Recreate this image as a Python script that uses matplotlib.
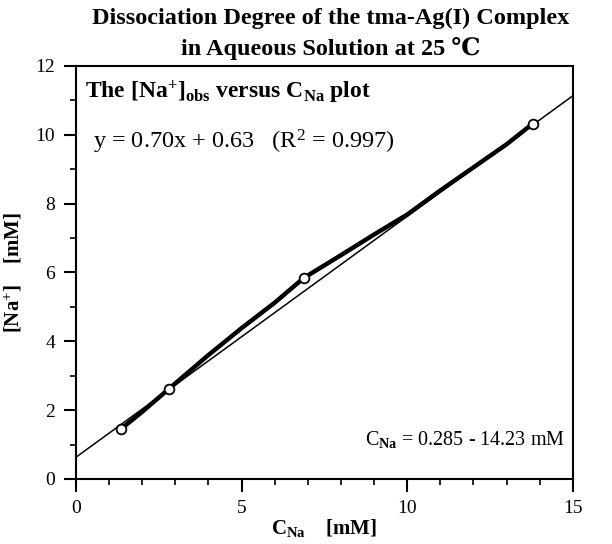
import matplotlib

matplotlib.use("Agg")
import matplotlib.pyplot as plt
import numpy as np
from matplotlib.ticker import MultipleLocator

plt.rcParams["font.family"] = ["Liberation Serif", "DejaVu Serif"]
plt.rcParams["mathtext.fontset"] = "custom"
plt.rcParams["mathtext.rm"] = "Liberation Serif"
plt.rcParams["mathtext.bf"] = "Liberation Serif:bold"
plt.rcParams["mathtext.it"] = "Liberation Serif:italic"

# observed points (open circles)
c_na_points = [1.36, 2.81, 6.88, 13.79]
na_obs_points = [1.45, 2.62, 5.84, 10.32]

# measured curve (thick line)
c_na_curve = [1.36, 2.0, 2.81, 4.0, 5.0, 6.0, 6.88, 8.0, 9.0, 10.0, 11.0, 12.0, 13.0, 13.79]
na_obs_curve = [1.45, 1.95, 2.62, 3.6, 4.38, 5.12, 5.84, 6.5, 7.1, 7.68, 8.38, 9.05, 9.72, 10.32]

# linear fit y = 0.70x + 0.63
slope = 0.70
intercept = 0.63
fit_x = np.array([0.0, 15.0])

fig = plt.figure(figsize=(6.12, 5.44), dpi=100)
ax = fig.add_axes([0.124, 0.1195, 0.812, 0.7595])

ax.plot(fit_x, slope * fit_x + intercept, color="black", lw=1.1, zorder=2)
ax.plot(c_na_curve, na_obs_curve, color="black", lw=3.2, solid_capstyle="round", zorder=3)
ax.plot(c_na_points, na_obs_points, "o", ms=7, mfc="white", mec="black", mew=1.3, zorder=4)

ax.set_xlim(0, 15)
ax.set_ylim(0, 12)
ax.xaxis.set_major_locator(MultipleLocator(5))
ax.xaxis.set_minor_locator(MultipleLocator(1))
ax.yaxis.set_major_locator(MultipleLocator(2))
ax.yaxis.set_minor_locator(MultipleLocator(1))
ax.tick_params(which="major", direction="out", length=9, width=1.5, labelsize=14, pad=6)
ax.tick_params(which="minor", direction="out", length=4, width=1.2)
for spine in ax.spines.values():
    spine.set_linewidth(1.5)

ax.set_xlabel(r"C$_{\mathbf{Na}}$    [mM]", fontsize=15, fontweight="bold", labelpad=0)
ax.set_ylabel(r"[Na$^{\mathbf{+}}$]    [mM]", fontsize=15, fontweight="bold", labelpad=8)

fig.suptitle("Dissociation Degree of the tma-Ag(I) Complex\nin Aqueous Solution at 25 \u2103",
             x=0.54, y=0.985, fontsize=17.5, fontweight="bold", linespacing=1.45)

ax.text(0.018, 0.97, r"The [Na$^{\mathbf{+}}$]$_{\mathbf{obs}}$ versus C$_{\mathbf{Na}}$ plot",
        transform=ax.transAxes, fontsize=17, fontweight="bold", va="top", ha="left")
ax.text(0.035, 0.85, r"y = 0.70x + 0.63   (R$^2$ = 0.997)",
        transform=ax.transAxes, fontsize=17.5, va="top", ha="left")
ax.text(0.985, 0.07, r"C$_{\mathbf{Na}}$ = 0.285 - 14.23 mM",
        transform=ax.transAxes, fontsize=14.5, va="bottom", ha="right")

fig.savefig("out.png", dpi=100)
